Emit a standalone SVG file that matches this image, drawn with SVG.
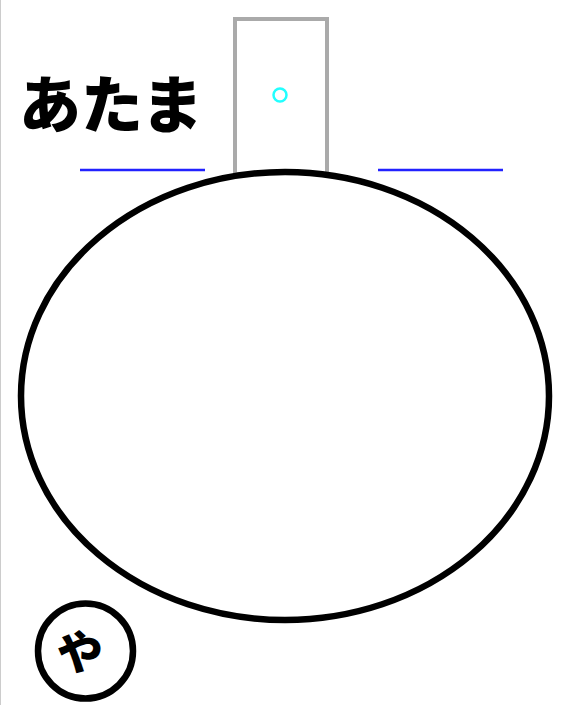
<svg xmlns="http://www.w3.org/2000/svg" width="567" height="705" viewBox="0 0 567 705">
<style>
.lbl{font-family:"Noto Sans CJK JP","Noto Sans CJK SC",sans-serif;font-weight:900;fill:#000}
.blue{stroke:#2222ff;stroke-width:2.5}
</style>
<rect x="0" y="0" width="567" height="705" fill="#fff"/>
<line x1="0.5" y1="0" x2="0.5" y2="705" stroke="#cccccc" stroke-width="1"/>
<g id="label-atama"><text class="lbl" x="19" y="128" font-size="62">あたま</text></g>
<g id="door">
<rect x="235" y="19" width="92" height="155" fill="#fff" stroke="#aaaaaa" stroke-width="4"/>
<circle cx="280" cy="95" r="6.5" fill="none" stroke="#22ffff" stroke-width="2.5"/>
</g>
<g id="connectors">
<line class="blue" x1="80" y1="170" x2="205" y2="170"/>
<line class="blue" x1="378" y1="170" x2="503" y2="170"/>
</g>
<g id="head"><ellipse cx="285" cy="396" rx="264" ry="224" fill="#fff" stroke="#000" stroke-width="6.5"/></g>
<g id="ya">
<circle cx="85.5" cy="651" r="47.5" fill="#fff" stroke="#000" stroke-width="6.5"/>
<text class="lbl" x="80" y="669" font-size="46" text-anchor="middle">や</text>
</g>
</svg>
